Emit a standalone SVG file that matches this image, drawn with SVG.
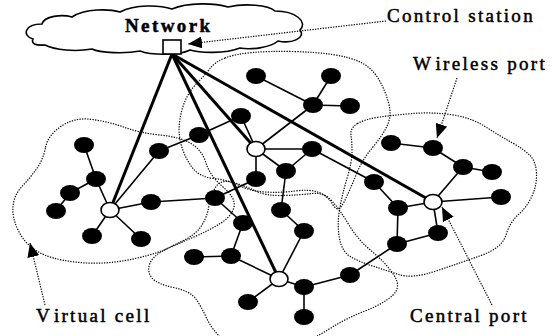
<svg xmlns="http://www.w3.org/2000/svg" width="554" height="336" viewBox="0 0 554 336">
<style>
.cell{fill:none;stroke:#000;stroke-width:1.2;stroke-dasharray:1.3 1.3}
.ptr{fill:none;stroke:#000;stroke-width:1.2;stroke-dasharray:1.3 1.3}
.edge{stroke:#000;stroke-width:1.6;fill:none}
.trunk{stroke:#000;stroke-width:3;fill:none}
.bn{fill:#000}
.wn{fill:#fff;stroke:#000;stroke-width:1.6}
.lbl{font-family:"Liberation Serif","Times New Roman",serif;font-size:19px;letter-spacing:2.3px;fill:#000;stroke:#000;stroke-width:0.5}
</style>
<defs>
<marker id="ah" markerUnits="userSpaceOnUse" markerWidth="14" markerHeight="12" refX="14" refY="6" orient="auto">
<path d="M0,0 L14,6 L0,12 z" fill="#000"/>
</marker>
</defs>
<rect width="554" height="336" fill="#fff"/>

<g id="cloud">
<path d="M45,45 Q30,46 33,39 C22,36 24,24 42,24 C44,16 62,14 72,17 C85,8 110,9 120,12 C135,4 160,5 172,9 C188,2 215,3 228,7 C245,3 268,5 275,11 C296,11 308,22 300,30 C306,38 292,44 278,41 C270,48 250,50 240,48 C225,54 200,53 190,50 C178,56 150,55 140,51 C125,54 100,53 92,49 C75,52 55,50 45,45 Z" fill="#fff" stroke="#000" stroke-width="1.6"/>
</g>

<g id="cells">
<path class="cell" d="M45.5,147.5 Q48,135 61.5,126 Q75,117 92.5,119.5 Q110,122 125,127.5 Q140,133 160,135 Q180,137 191,143.5 Q202,150 206,163 Q210,176 223,187 Q236,198 234,207 Q232,216 221,223 Q210,230 195,236.5 Q180,243 165,249.5 Q150,256 125,260.5 Q100,265 75,262 Q50,259 37.5,251.5 Q25,244 18.5,231 Q12,218 13,206.5 Q14,195 22,186.5 Q30,178 36.5,169 Q43,160 45.5,147.5 Z"/>
<path class="cell" d="M225,58 Q235,54 252.5,52.5 Q270,51 292.5,51.5 Q315,52 332.5,54.5 Q350,57 361,62.5 Q372,68 378.5,79 Q385,90 388.5,102.5 Q392,115 387.5,125 Q383,135 372.5,147.5 Q362,160 356,175 Q350,190 344,202 Q338,214 333,205 Q328,196 319,192.5 Q310,189 295,191 Q280,193 265,192 Q250,191 239,185.5 Q228,180 214,178.5 Q200,177 193,168.5 Q186,160 182,147.5 Q178,135 179.5,122.5 Q181,110 185.5,100 Q190,90 197.5,82.5 Q205,75 210,68.5 Q215,62 225,58 Z"/>
<path class="cell" d="M149.5,264.5 Q152,257 162,251.5 Q172,246 183.5,240.5 Q195,235 201,226.5 Q207,218 209,205.5 Q211,193 216.5,186 Q222,179 233.5,182.5 Q245,186 255.5,191 Q266,196 283,195.5 Q300,195 312,193.5 Q324,192 332,201 Q340,210 349,225 Q358,240 371.5,251 Q385,262 393.5,274.5 Q402,287 392.5,295.5 Q383,304 365,311 Q347,318 332.5,327 Q318,336 304,343 Q290,350 262.5,350 Q235,350 223.5,340 Q212,330 206.5,318 Q201,306 195.5,298.5 Q190,291 173.5,287.5 Q157,284 152,278 Q147,272 149.5,264.5 Z"/>
<path class="cell" d="M357.5,123.5 Q365,119 380,117 Q395,115 412.5,113.5 Q430,112 450,114.5 Q470,117 485,126.5 Q500,136 512.5,143 Q525,150 530.5,156 Q536,162 536.5,173.5 Q537,185 532,196 Q527,207 518.5,214.5 Q510,222 506,235 Q502,248 481,255.5 Q460,263 436,271 Q412,279 398.5,274.5 Q385,270 372.5,266 Q360,262 351,257 Q342,252 339.5,238.5 Q337,225 339.5,210 Q342,195 347,178.5 Q352,162 352,152 Q352,142 351,135 Q350,128 357.5,123.5 Z"/>
</g>

<g id="connectors">
<line class="trunk" x1="172" y1="54" x2="110" y2="210"/>
<line class="trunk" x1="172" y1="54" x2="256" y2="149"/>
<line class="trunk" x1="172" y1="54" x2="279" y2="279"/>
<line class="trunk" x1="172" y1="54" x2="433" y2="202"/>
<line class="edge" x1="84" y1="145" x2="96" y2="179"/>
<line class="edge" x1="96" y1="179" x2="70" y2="193"/>
<line class="edge" x1="70" y1="193" x2="56" y2="211"/>
<line class="edge" x1="96" y1="179" x2="110" y2="210"/>
<line class="edge" x1="110" y1="210" x2="92" y2="236"/>
<line class="edge" x1="110" y1="210" x2="141" y2="239"/>
<line class="edge" x1="110" y1="210" x2="151" y2="202"/>
<line class="edge" x1="110" y1="210" x2="159" y2="151"/>
<line class="edge" x1="151" y1="202" x2="215" y2="198"/>
<line class="edge" x1="159" y1="151" x2="199" y2="135"/>
<line class="edge" x1="199" y1="135" x2="241" y2="116"/>
<line class="edge" x1="241" y1="116" x2="256" y2="149"/>
<line class="edge" x1="256" y1="76" x2="313" y2="105"/>
<line class="edge" x1="331" y1="76" x2="313" y2="105"/>
<line class="edge" x1="313" y1="105" x2="350" y2="106"/>
<line class="edge" x1="313" y1="105" x2="256" y2="149"/>
<line class="edge" x1="256" y1="149" x2="312" y2="149"/>
<line class="edge" x1="256" y1="149" x2="286" y2="171"/>
<line class="edge" x1="256" y1="149" x2="256" y2="179"/>
<line class="edge" x1="312" y1="149" x2="286" y2="171"/>
<line class="edge" x1="312" y1="149" x2="374" y2="182"/>
<line class="edge" x1="286" y1="171" x2="281" y2="210"/>
<line class="edge" x1="281" y1="210" x2="304" y2="231"/>
<line class="edge" x1="304" y1="231" x2="279" y2="279"/>
<line class="edge" x1="256" y1="179" x2="215" y2="198"/>
<line class="edge" x1="215" y1="198" x2="243" y2="223"/>
<line class="edge" x1="243" y1="223" x2="231" y2="256"/>
<line class="edge" x1="194" y1="257" x2="231" y2="256"/>
<line class="edge" x1="231" y1="256" x2="279" y2="279"/>
<line class="edge" x1="279" y1="279" x2="248" y2="302"/>
<line class="edge" x1="279" y1="279" x2="304" y2="287"/>
<line class="edge" x1="304" y1="287" x2="304" y2="317"/>
<line class="edge" x1="304" y1="287" x2="350" y2="275"/>
<line class="edge" x1="350" y1="275" x2="397" y2="244"/>
<line class="edge" x1="397" y1="244" x2="398" y2="208"/>
<line class="edge" x1="397" y1="244" x2="438" y2="233"/>
<line class="edge" x1="438" y1="233" x2="433" y2="202"/>
<line class="edge" x1="398" y1="208" x2="433" y2="202"/>
<line class="edge" x1="374" y1="182" x2="398" y2="208"/>
<line class="edge" x1="433" y1="202" x2="463" y2="167"/>
<line class="edge" x1="463" y1="167" x2="492" y2="172"/>
<line class="edge" x1="463" y1="167" x2="433" y2="148"/>
<line class="edge" x1="433" y1="148" x2="391" y2="143"/>
<line class="edge" x1="433" y1="202" x2="501" y2="197"/>
<line class="ptr" x1="386" y1="21" x2="188" y2="44" marker-end="url(#ah)"/>
<line class="ptr" x1="457" y1="78" x2="437" y2="138" marker-end="url(#ah)"/>
<line class="ptr" x1="45" y1="305" x2="30" y2="243" marker-end="url(#ah)"/>
<line class="ptr" x1="492" y1="305" x2="442" y2="207" marker-end="url(#ah)"/>
</g>

<g id="control-station"><rect x="163" y="40" width="18" height="14" fill="#fff" stroke="#000" stroke-width="1.6"/></g>

<g id="node-n1"><ellipse class="bn" cx="84" cy="145" rx="10" ry="8"/></g>
<g id="node-n2"><ellipse class="bn" cx="96" cy="179" rx="10" ry="8"/></g>
<g id="node-n3"><ellipse class="bn" cx="70" cy="193" rx="10" ry="8"/></g>
<g id="node-n4"><ellipse class="bn" cx="56" cy="211" rx="10" ry="8"/></g>
<g id="node-n5"><ellipse class="bn" cx="92" cy="236" rx="10" ry="8"/></g>
<g id="node-n6"><ellipse class="bn" cx="141" cy="239" rx="10" ry="8"/></g>
<g id="node-n7"><ellipse class="bn" cx="151" cy="202" rx="10" ry="8"/></g>
<g id="node-n8"><ellipse class="bn" cx="159" cy="151" rx="10" ry="8"/></g>
<g id="node-n9"><ellipse class="bn" cx="199" cy="135" rx="10" ry="8"/></g>
<g id="node-n10"><ellipse class="bn" cx="241" cy="116" rx="10" ry="8"/></g>
<g id="node-n11"><ellipse class="bn" cx="256" cy="76" rx="10" ry="8"/></g>
<g id="node-n12"><ellipse class="bn" cx="331" cy="76" rx="10" ry="8"/></g>
<g id="node-n13"><ellipse class="bn" cx="313" cy="105" rx="10" ry="8"/></g>
<g id="node-n14"><ellipse class="bn" cx="350" cy="106" rx="10" ry="8"/></g>
<g id="node-n15"><ellipse class="bn" cx="312" cy="149" rx="10" ry="8"/></g>
<g id="node-n16"><ellipse class="bn" cx="286" cy="171" rx="10" ry="8"/></g>
<g id="node-n17"><ellipse class="bn" cx="256" cy="179" rx="10" ry="8"/></g>
<g id="node-n18"><ellipse class="bn" cx="215" cy="198" rx="10" ry="8"/></g>
<g id="node-n19"><ellipse class="bn" cx="243" cy="223" rx="10" ry="8"/></g>
<g id="node-n20"><ellipse class="bn" cx="281" cy="210" rx="10" ry="8"/></g>
<g id="node-n21"><ellipse class="bn" cx="304" cy="231" rx="10" ry="8"/></g>
<g id="node-n22"><ellipse class="bn" cx="194" cy="257" rx="10" ry="8"/></g>
<g id="node-n23"><ellipse class="bn" cx="231" cy="256" rx="10" ry="8"/></g>
<g id="node-n24"><ellipse class="bn" cx="248" cy="302" rx="10" ry="8"/></g>
<g id="node-n25"><ellipse class="bn" cx="304" cy="287" rx="10" ry="8"/></g>
<g id="node-n26"><ellipse class="bn" cx="304" cy="317" rx="10" ry="8"/></g>
<g id="node-n27"><ellipse class="bn" cx="350" cy="275" rx="10" ry="8"/></g>
<g id="node-n28"><ellipse class="bn" cx="397" cy="244" rx="10" ry="8"/></g>
<g id="node-n29"><ellipse class="bn" cx="398" cy="208" rx="10" ry="8"/></g>
<g id="node-n30"><ellipse class="bn" cx="438" cy="233" rx="10" ry="8"/></g>
<g id="node-n31"><ellipse class="bn" cx="374" cy="182" rx="10" ry="8"/></g>
<g id="node-n32"><ellipse class="bn" cx="391" cy="143" rx="10" ry="8"/></g>
<g id="node-n33"><ellipse class="bn" cx="433" cy="148" rx="10" ry="8"/></g>
<g id="node-n34"><ellipse class="bn" cx="463" cy="167" rx="10" ry="8"/></g>
<g id="node-n35"><ellipse class="bn" cx="492" cy="172" rx="10" ry="8"/></g>
<g id="node-n36"><ellipse class="bn" cx="501" cy="197" rx="10" ry="8"/></g>
<g id="port-w1"><ellipse class="wn" cx="110" cy="210" rx="9" ry="7.5"/></g>
<g id="port-w2"><ellipse class="wn" cx="256" cy="149" rx="9" ry="7.5"/></g>
<g id="port-w3"><ellipse class="wn" cx="279" cy="279" rx="9" ry="7.5"/></g>
<g id="port-w4"><ellipse class="wn" cx="433" cy="202" rx="9" ry="7.5"/></g>

<g id="labels">
<text class="lbl" x="125" y="32" font-weight="bold" style="letter-spacing:2.4px">Network</text>
<text class="lbl" x="387" y="22">Control station</text>
<text class="lbl" x="413" y="70">W<tspan dx="3">ireless port</tspan></text>
<text class="lbl" x="36" y="322">V<tspan dx="3">irtual cell</tspan></text>
<text class="lbl" x="410" y="322">Central port</text>
</g>
</svg>
